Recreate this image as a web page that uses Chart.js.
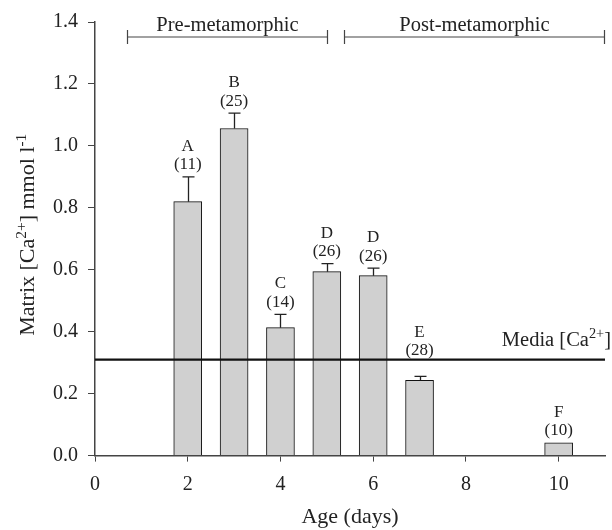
<!DOCTYPE html>
<html>
<head>
<meta charset="utf-8">
<script src="https://cdn.jsdelivr.net/npm/chart.js@4/dist/chart.umd.min.js"></script>
<style>
  html, body { margin: 0; padding: 0; background: #fff; }
  #wrap { width: 612px; height: 530px; }
</style>
</head>
<body>
<div id="wrap"><canvas id="calcium"></canvas></div>
<script>
// Matrix calcium by larval age, mean + SE, with group letters and sample sizes
const ages = [2, 3, 4, 5, 6, 7, 10];
const means = [0.82, 1.056, 0.413, 0.594, 0.581, 0.243, 0.041];
const sem = [0.08, 0.05, 0.043, 0.026, 0.024, 0.013, 0];
const groups = ['A', 'B', 'C', 'D', 'D', 'E', 'F'];
const counts = [11, 25, 14, 26, 26, 28, 10];
const mediaCa = 0.31;

const stageNames = ['Pre-metamorphic', 'Post-metamorphic'];
const stageStart = [0.7, 5.38];
const stageEnd = [5.02, 11];

const SERIF = '"Liberation Serif", "Times New Roman", serif';
const INK = '#222';

// draws text pieces left to right (some raised as superscripts), returns width
function richText(ctx, parts, x, y, size, draw) {
  let w = 0;
  parts.forEach(p => {
    const s = p.sup ? size * 0.7 : size;
    ctx.font = s + 'px ' + SERIF;
    const dy = p.sup ? -size * 0.38 : 0;
    if (draw) ctx.fillText(p.t, x + w, y + dy);
    w += ctx.measureText(p.t).width;
  });
  return w;
}

const annotate = {
  id: 'annotate',
  afterDatasetsDraw(chart) {
    const { ctx, chartArea, scales: { x, y } } = chart;
    ctx.save();

    // error bars (upper half only)
    ctx.strokeStyle = INK;
    ctx.lineWidth = 1.3;
    ages.forEach((a, i) => {
      if (!sem[i]) return;
      const px = Math.round(x.getPixelForValue(a)) + 0.5;
      const y0 = y.getPixelForValue(means[i]);
      const y1 = y.getPixelForValue(means[i] + sem[i]);
      ctx.beginPath();
      ctx.moveTo(px, y0); ctx.lineTo(px, y1);
      ctx.moveTo(px - 6, y1); ctx.lineTo(px + 6, y1);
      ctx.stroke();
    });

    // group letter and n above each bar
    const mediaPx = y.getPixelForValue(mediaCa);
    ctx.fillStyle = INK;
    ctx.textAlign = 'center';
    ctx.textBaseline = 'middle';
    ctx.font = '17px ' + SERIF;
    ages.forEach((a, i) => {
      const px = x.getPixelForValue(a);
      let nY = y.getPixelForValue(means[i] + sem[i]) - 12;
      if (nY - 26 < mediaPx && nY + 8 > mediaPx) nY = mediaPx - 9;
      ctx.fillText('(' + counts[i] + ')', px, nY);
      ctx.fillText(groups[i], px, nY - 18.5);
    });

    // stage brackets along the top
    const by = chartArea.top + 15;
    ctx.strokeStyle = '#444';
    ctx.lineWidth = 1.2;
    ctx.textBaseline = 'alphabetic';
    ctx.font = '20.5px ' + SERIF;
    stageNames.forEach((name, i) => {
      const x0 = Math.round(x.getPixelForValue(stageStart[i])) + 0.5;
      const x1 = Math.round(x.getPixelForValue(stageEnd[i])) - 0.5;
      ctx.beginPath();
      ctx.moveTo(x0, by); ctx.lineTo(x1, by);
      ctx.moveTo(x0, by - 7); ctx.lineTo(x0, by + 7);
      ctx.moveTo(x1, by - 7); ctx.lineTo(x1, by + 7);
      ctx.stroke();
      ctx.fillText(name, (x0 + x1) / 2, chartArea.top + 9);
    });

    // label for the culture medium line
    ctx.textAlign = 'left';
    const mediaParts = [{ t: 'Media [Ca' }, { t: '2+', sup: true }, { t: ']' }];
    const mw = richText(ctx, mediaParts, 0, 0, 20.5, false);
    richText(ctx, mediaParts, chart.width - 1 - mw, mediaPx - 14, 20.5, true);

    // y axis title, rotated, with superscripts
    const titleParts = [{ t: 'Matrix [Ca' }, { t: '2+', sup: true }, { t: '] mmol l' }, { t: '-1', sup: true }];
    ctx.translate(34, (chartArea.top + chartArea.bottom) / 2 - 4);
    ctx.rotate(-Math.PI / 2);
    const tw = richText(ctx, titleParts, 0, 0, 22, false);
    richText(ctx, titleParts, -tw / 2, 0, 22, true);

    ctx.restore();
  }
};

new Chart(document.getElementById('calcium'), {
  type: 'bar',
  data: {
    datasets: [
      {
        type: 'line',
        data: [{ x: 0, y: mediaCa }, { x: 11, y: mediaCa }],
        borderColor: '#111',
        borderWidth: 2.2,
        pointRadius: 0,
        order: 0
      },
      {
        data: ages.map((a, i) => ({ x: a, y: means[i] })),
        backgroundColor: '#d0d0d0',
        borderColor: '#111',
        borderWidth: 1,
        barThickness: 28,
        order: 1
      }
    ]
  },
  options: {
    responsive: true,
    maintainAspectRatio: false,
    animation: false,
    layout: { padding: { left: 43, right: 7, top: 15, bottom: 0 } },
    plugins: { legend: { display: false }, tooltip: { enabled: false } },
    scales: {
      x: {
        type: 'linear',
        offset: false,
        min: 0,
        max: 11,
        afterBuildTicks: s => { s.ticks = s.ticks.filter(t => t.value % 2 === 0); },
        ticks: { stepSize: 2, color: INK, font: { family: SERIF, size: 20 }, padding: 11 },
        grid: { offset: false, drawOnChartArea: false, drawTicks: true, tickLength: 6, color: '#444' },
        border: { color: '#444', width: 1.5 },
        title: { display: true, text: 'Age (days)', color: INK, font: { family: SERIF, size: 22 }, padding: { top: -4, bottom: 0 } }
      },
      y: {
        min: 0,
        max: 1.4,
        ticks: { stepSize: 0.2, color: INK, font: { family: SERIF, size: 20 }, padding: 10, callback: v => v.toFixed(1) },
        grid: { drawOnChartArea: false, drawTicks: true, tickLength: 7, color: '#444' },
        border: { color: '#444', width: 1.5 }
      }
    }
  },
  plugins: [annotate]
});
</script>
</body>
</html>
